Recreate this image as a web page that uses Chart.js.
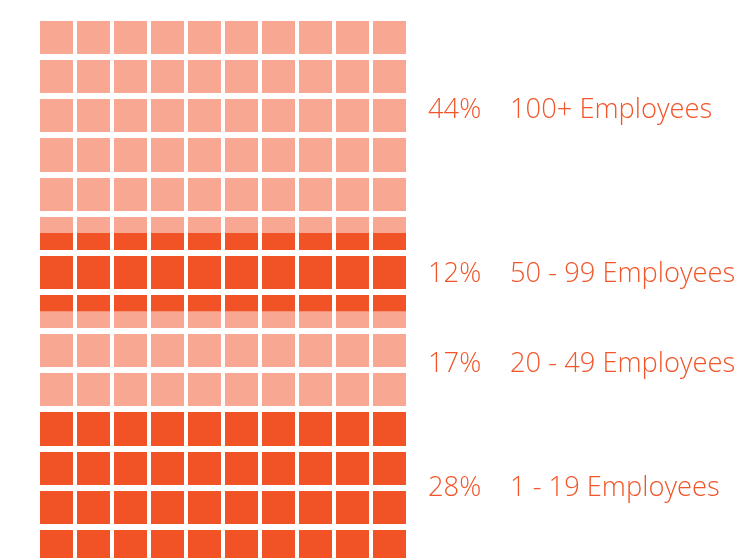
<!DOCTYPE html>
<html>
<head>
<meta charset="utf-8">
<script src="https://cdn.jsdelivr.net/npm/chart.js@4.4.1/dist/chart.umd.min.js"></script>
<style>
  html, body { margin: 0; padding: 0; background: #fff; overflow: hidden; }
  #wrap { position: relative; width: 739px; height: 580px; }
</style>
</head>
<body>
<div id="wrap"><canvas id="waffle"></canvas></div>
<script>
// bands from the bottom of the waffle up
const groups = ['1 - 19 Employees', '20 - 49 Employees', '50 - 99 Employees', '100+ Employees'];
const shares = [28, 17, 12, 44];        // percent shown in the labels
const cells  = [40, 25, 20, 55];        // squares filled per band (grid is 10 x 14 = 140)
const gridCols = 10;
const gridRows = 14;

const DARK = '#f15226';
const LIGHT = '#f7a792';
const TEXT = '#f15529';

// label nudges in px (top band label sits higher than its band centre)
const labelNudge = [0, 2, 0, -17];

const bandLabels = {
  id: 'bandLabels',
  afterDraw(chart) {
    const { ctx, chartArea } = chart;
    ctx.save();
    ctx.font = '300 27.3px "Open Sans", sans-serif';
    ctx.fillStyle = TEXT;
    ctx.textAlign = 'left';
    ctx.textBaseline = 'alphabetic';
    groups.forEach((name, i) => {
      const el = chart.getDatasetMeta(i).data[0];
      if (!el) return;
      const cy = (el.y + el.base) / 2 + labelNudge[i];
      const base = cy + 9.7;
      ctx.fillText(shares[i] + '%', chartArea.right + 20, base);
      ctx.fillText(name, chartArea.right + 102, base);
    });
    ctx.restore();
  }
};

const ctx = document.getElementById('waffle').getContext('2d');
new Chart(ctx, {
  type: 'bar',
  data: {
    labels: ['Company size'],
    datasets: cells.map((v, i) => ({
      label: groups[i],
      data: [v],
      backgroundColor: i % 2 === 0 ? DARK : LIGHT,
      borderWidth: 0,
      barPercentage: 1,
      categoryPercentage: 1
    }))
  },
  options: {
    responsive: true,
    maintainAspectRatio: false,
    animation: false,
    layout: { padding: { left: 38, top: 18, right: 331, bottom: 14 } },
    plugins: { legend: { display: false }, tooltip: { enabled: false } },
    scales: {
      x: { type: 'category', stacked: true, display: false },
      cols: {
        type: 'linear', axis: 'x', position: 'bottom',
        min: 0, max: gridCols, offset: false,
        ticks: { stepSize: 1, display: false },
        grid: { color: '#ffffff', lineWidth: 4, drawTicks: false, offset: false, z: 1 },
        border: { display: false },
        z: 1
      },
      y: {
        stacked: true, min: 0, max: gridRows * 10,
        ticks: { stepSize: 10, display: false },
        grid: { color: '#ffffff', lineWidth: 6, drawTicks: false, z: 1 },
        border: { display: false },
        z: 1
      }
    }
  },
  plugins: [bandLabels]
});
</script>
</body>
</html>
